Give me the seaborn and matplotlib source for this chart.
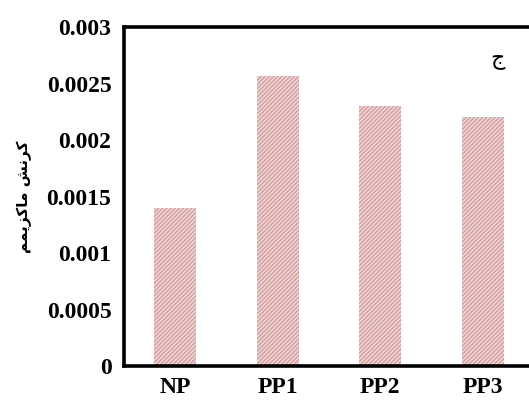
import matplotlib
matplotlib.use("Agg")
import matplotlib.pyplot as plt
import seaborn as sns
import pandas as pd

categories = ["NP", "PP1", "PP2", "PP3"]
max_strain = [0.0014, 0.00257, 0.0023, 0.0022]
y_ticks = [0, 0.0005, 0.001, 0.0015, 0.002, 0.0025, 0.003]
y_tick_labels = ["0", "0.0005", "0.001", "0.0015", "0.002", "0.0025", "0.003"]
# "کرنش ماکزیمم" in shaped presentation forms, visual order
y_label = "\uFEE2\uFEE4\uFBFE\uFEB0\uFB90\uFE8E\uFEE3 \uFEB6\uFEE7\uFEAE\uFB90"
panel_label = "ج"

sns.set_theme(style="white")
plt.rcParams["font.family"] = ["Liberation Serif", "DejaVu Sans"]
plt.rcParams["hatch.linewidth"] = 1.0

df = pd.DataFrame({"group": categories, "strain": max_strain})

fig = plt.figure(figsize=(5.29, 4.03), dpi=100)
ax = fig.add_axes([0.2344, 0.0918, 0.775, 0.841])

sns.barplot(data=df, x="group", y="strain", ax=ax, width=0.41,
            color="#f1d6d6", saturation=1)
for p in ax.patches:
    p.set_hatch("////////")
    p.set_edgecolor("#d29e9e")
    p.set_linewidth(0)

ax.set_xlim(-0.5, 3.5)
ax.set_ylim(0, 0.003)
ax.set_yticks(y_ticks)
ax.set_yticklabels(y_tick_labels, fontsize=17, fontweight="bold",
                   family="Liberation Serif")
ax.set_xticks(range(len(categories)))
ax.set_xticklabels(categories, fontsize=17, fontweight="bold",
                   family="Liberation Serif")
ax.set_xticks([-0.5, 0.5, 1.5, 2.5, 3.5], minor=True)
ax.tick_params(axis="x", which="major", length=0, pad=8, colors="black")
ax.tick_params(axis="x", which="minor", length=7, width=2.4,
               direction="out", colors="black")
ax.tick_params(axis="y", which="major", length=7, width=2.4,
               direction="out", pad=2, colors="black")

for side in ["left", "bottom", "top", "right"]:
    ax.spines[side].set_visible(True)
    ax.spines[side].set_color("black")
    ax.spines[side].set_linewidth(2.6)

ax.set_xlabel("")
ax.set_ylabel(y_label, family=["DejaVu Sans"], fontsize=11,
              fontweight="bold", color="black")
ax.yaxis.set_label_coords(-0.225, 0.5)

ax.text(0.91, 0.905, panel_label, transform=ax.transAxes,
        family=["DejaVu Sans"], fontsize=16, ha="center", va="center",
        color="black")

fig.savefig("out.png", dpi=100)
